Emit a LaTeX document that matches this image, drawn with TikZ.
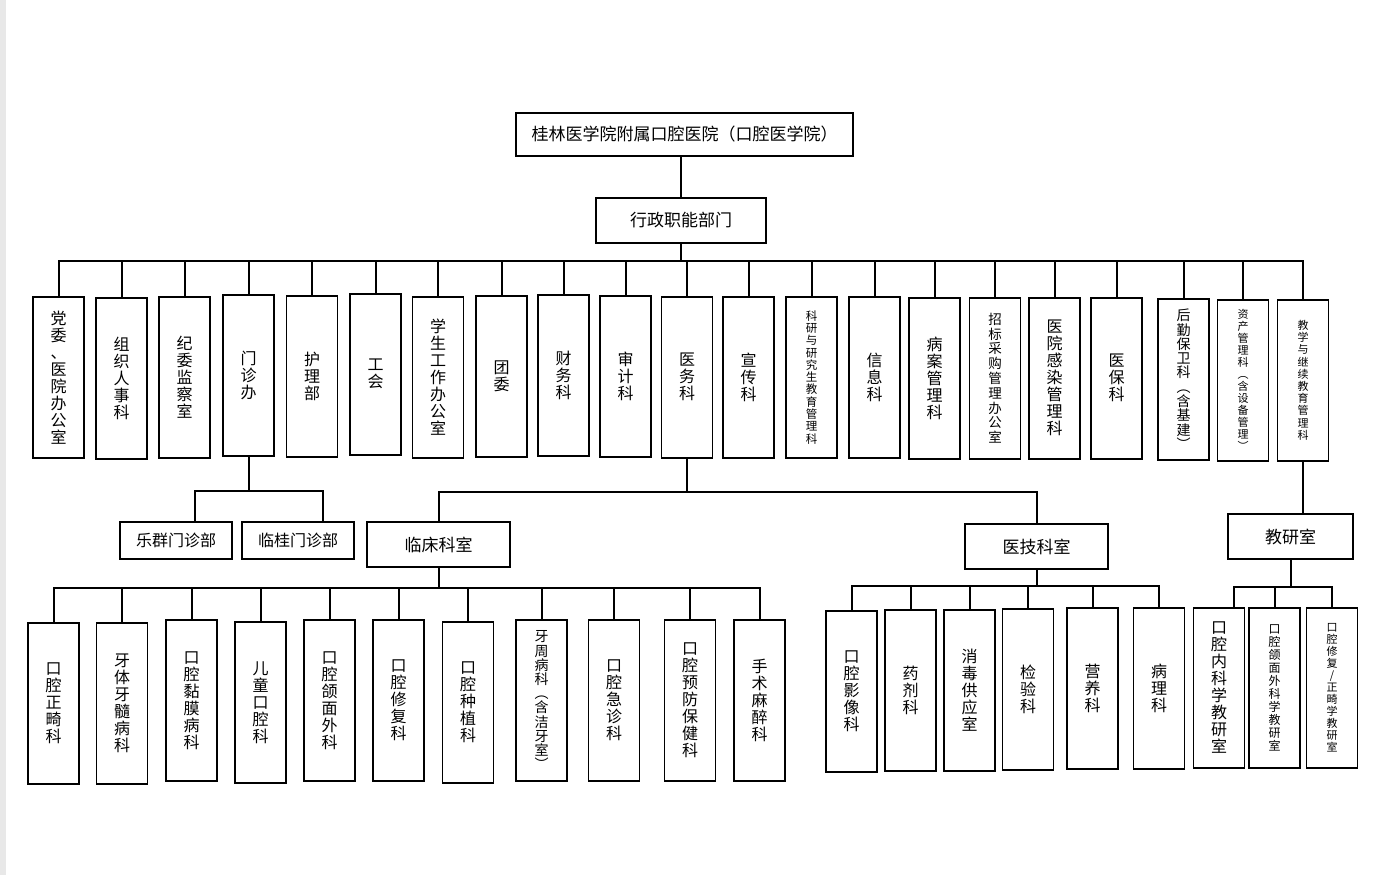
\documentclass[tikz,border=0pt]{standalone}
\usepackage{fontspec}
\setmainfont{Noto Sans CJK SC}

\begin{document}
\begin{tikzpicture}[x=1pt, y=-1pt, line width=1.5pt,
    link/.style={line width=2pt},
    hbox/.style={draw, inner sep=0pt, font=\fontsize{17}{18}\selectfont},
    vbox/.style={draw, anchor=north, minimum width=51pt, minimum height=161pt,
                 inner sep=0pt, align=center, font=\fontsize{16}{17}\selectfont},
    vfont/.style 2 args={font=\fontsize{#1}{#2}\selectfont}]

  \fill[white] (0,0) rectangle (1391,875);
  \fill[black!9] (0,0) rectangle (6,875);
  \useasboundingbox (0,0) rectangle (1391,875);

  % top levels
  \node[hbox, minimum width=337pt, minimum height=43pt] (root) at (684.5,134.5) {桂林医学院附属口腔医院（口腔医学院）};
  \node[hbox, minimum width=170pt, minimum height=45pt] (adm)  at (681,220.5)   {行政职能部门};

  % administrative offices
  \node[vbox] (a1)  at (58.5,296)  {党\\委\\、\\医\\院\\办\\公\\室};
  \node[vbox] (a2)  at (121.5,297) {组\\织\\人\\事\\科};
  \node[vbox] (a3)  at (184.5,296) {纪\\委\\监\\察\\室};
  \node[vbox] (a4)  at (248.5,294) {门\\诊\\办};
  \node[vbox] (a5)  at (312,295)   {护\\理\\部};
  \node[vbox] (a6)  at (375.5,293) {工\\会};
  \node[vbox] (a7)  at (438,296)   {学\\生\\工\\作\\办\\公\\室};
  \node[vbox] (a8)  at (501.5,295) {团\\委};
  \node[vbox] (a9)  at (563.5,294) {财\\务\\科};
  \node[vbox] (a10) at (625.5,295) {审\\计\\科};
  \node[vbox] (a11) at (687,296)   {医\\务\\科};
  \node[vbox] (a12) at (748.5,296) {宣\\传\\科};
  \node[vbox, vfont={11.5}{12.3}] (a13) at (811.5,296) {科\\研\\与\\研\\究\\生\\教\\育\\管\\理\\科};
  \node[vbox] (a14) at (874.5,296) {信\\息\\科};
  \node[vbox] (a15) at (934.5,297) {病\\案\\管\\理\\科};
  \node[vbox, vfont={13.5}{14.8}] (a16) at (995,297) {招\\标\\采\\购\\管\\理\\办\\公\\室};
  \node[vbox] (a17) at (1054.5,297) {医\\院\\感\\染\\管\\理\\科};
  \node[vbox] (a18) at (1116.5,297) {医\\保\\科};
  \node[vbox, vfont={14}{14.3}] (a19) at (1183.5,298) {后\\勤\\保\\卫\\科\\︵\\含\\基\\建\\︶};
  \node[vbox, vfont={11}{12}] (a20) at (1243,299) {资\\产\\管\\理\\科\\︵\\含\\设\\备\\管\\理\\︶};
  \node[vbox, vfont={11}{12.2}] (a21) at (1303,299) {教\\学\\与\\继\\续\\教\\育\\管\\理\\科};

  % second level
  \node[hbox, font=\fontsize{16}{17}\selectfont, minimum width=112pt, minimum height=37pt] (lq) at (176,540.5) {乐群门诊部};
  \node[hbox, font=\fontsize{16}{17}\selectfont, minimum width=112pt, minimum height=37pt] (lg) at (298,540.5) {临桂门诊部};
  \node[hbox, minimum width=143pt, minimum height=45pt] (lc)  at (438.5,544.5)  {临床科室};
  \node[hbox, minimum width=143pt, minimum height=45pt] (yj)  at (1036.5,546.5) {医技科室};
  \node[hbox, minimum width=125pt, minimum height=45pt] (jys) at (1290.5,536.5) {教研室};

  % clinical departments
  \node[vbox] (c1)  at (53.5,622)  {口\\腔\\正\\畸\\科};
  \node[vbox] (c2)  at (122,622)   {牙\\体\\牙\\髓\\病\\科};
  \node[vbox] (c3)  at (191.5,619) {口\\腔\\黏\\膜\\病\\科};
  \node[vbox] (c4)  at (260.5,621) {儿\\童\\口\\腔\\科};
  \node[vbox] (c5)  at (329.5,619) {口\\腔\\颌\\面\\外\\科};
  \node[vbox] (c6)  at (398.5,619) {口\\腔\\修\\复\\科};
  \node[vbox] (c7)  at (468,621)   {口\\腔\\种\\植\\科};
  \node[vbox, vfont={14}{14.2}] (c8) at (541.5,619) {牙\\周\\病\\科\\︵\\含\\洁\\牙\\室\\︶};
  \node[vbox] (c9)  at (614,619)   {口\\腔\\急\\诊\\科};
  \node[vbox] (c10) at (690,619)   {口\\腔\\预\\防\\保\\健\\科};
  \node[vbox] (c11) at (759.5,619) {手\\术\\麻\\醉\\科};

  % medical technology
  \node[vbox] (m1) at (851.5,610)  {口\\腔\\影\\像\\科};
  \node[vbox] (m2) at (910.5,609)  {药\\剂\\科};
  \node[vbox] (m3) at (969.5,609)  {消\\毒\\供\\应\\室};
  \node[vbox] (m4) at (1028,608)   {检\\验\\科};
  \node[vbox] (m5) at (1092.5,607) {营\\养\\科};
  \node[vbox] (m6) at (1159,607)   {病\\理\\科};

  % teaching and research
  \node[vbox, minimum height=160pt] (t1) at (1219,607) {口\\腔\\内\\科\\学\\教\\研\\室};
  \node[vbox, minimum height=160pt, vfont={12}{13}] (t2) at (1274.5,607) {口\\腔\\颌\\面\\外\\科\\学\\教\\研\\室};
  \node[vbox, minimum height=160pt, vfont={11}{12}] (t3) at (1332,607) {口\\腔\\修\\复\\/\\正\\畸\\学\\教\\研\\室};

  % buses
  \coordinate (bus1) at (0,261);
  \coordinate (bus2) at (0,491);
  \coordinate (bus3) at (0,492);
  \coordinate (bus4) at (0,588);
  \coordinate (bus5) at (0,586);
  \coordinate (bus6) at (0,587);
  \coordinate (lqt) at ([xshift=19pt]lq.north);
  \coordinate (lgt) at ([xshift=25pt]lg.north);
  \coordinate (t1t) at ([xshift=15pt]t1.north);

  \draw[link] (root.south -| adm.north) -- (adm.north);
  \draw[link] (adm.south) -- (adm.south |- bus1);
  \draw[link] (a1.north) -- (a1.north |- bus1) -- (a21.north |- bus1) -- (a21.north);
  \foreach \i in {2,...,20}
    \draw[link] (a\i.north) -- (a\i.north |- bus1);

  \draw[link] (a4.south) -- (a4.south |- bus2);
  \draw[link] (lqt) -- (lqt |- bus2) -- (lgt |- bus2) -- (lgt);

  \draw[link] (a11.south) -- (a11.south |- bus3);
  \draw[link] (lc.north) -- (lc.north |- bus3) -- (yj.north |- bus3) -- (yj.north);

  \draw[link] (lc.south) -- (lc.south |- bus4);
  \draw[link] (c1.north) -- (c1.north |- bus4) -- (c11.north |- bus4) -- (c11.north);
  \foreach \i in {2,...,10}
    \draw[link] (c\i.north) -- (c\i.north |- bus4);

  \draw[link] (yj.south) -- (yj.south |- bus5);
  \draw[link] (m1.north) -- (m1.north |- bus5) -- (m6.north |- bus5) -- (m6.north);
  \foreach \i in {2,...,5}
    \draw[link] (m\i.north) -- (m\i.north |- bus5);

  \draw[link] (a21.south) -- (a21.south |- jys.north);
  \draw[link] (jys.south) -- (jys.south |- bus6);
  \draw[link] (t1t) -- (t1t |- bus6) -- (t3.north |- bus6) -- (t3.north);
  \draw[link] (t2.north) -- (t2.north |- bus6);
\end{tikzpicture}
\end{document}
